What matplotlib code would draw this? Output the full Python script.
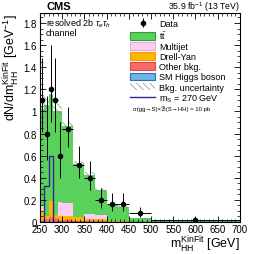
import matplotlib
matplotlib.use("Agg")
import matplotlib.pyplot as plt
import numpy as np
from matplotlib.patches import Patch
from matplotlib.lines import Line2D
from matplotlib.ticker import MultipleLocator

plt.rcParams['font.family'] = ['Liberation Sans', 'DejaVu Sans']
plt.rcParams['mathtext.fontset'] = 'custom'
plt.rcParams['mathtext.rm'] = 'Liberation Sans'
plt.rcParams['mathtext.it'] = 'Liberation Sans:italic'
plt.rcParams['mathtext.bf'] = 'Liberation Sans:bold'
plt.rcParams['hatch.linewidth'] = 0.5

# bins in m_HH^KinFit [GeV]
edges = [250, 260, 270, 280, 290, 300, 325, 350, 375, 400, 425, 450, 500, 700]

# stacked backgrounds, dN/dm [GeV^-1] (bottom -> top)
higgs    = [0.003, 0.003, 0.003, 0.003, 0.003, 0.002, 0.002, 0.002, 0.001, 0.001, 0.001, 0.0005, 0.0001]
other    = [0.012, 0.020, 0.040, 0.035, 0.015, 0.012, 0.010, 0.006, 0.005, 0.003, 0.003, 0.001, 0.0002]
dy       = [0.085, 0.035, 0.150, 0.025, 0.040, 0.040, 0.035, 0.020, 0.018, 0.008, 0.006, 0.002, 0.0005]
multijet = [0.045, 0.0, 0.0, 0.0, 0.120, 0.120, 0.0, 0.040, 0.040, 0.0, 0.0, 0.0, 0.0]
ttbar    = [0.875, 1.000, 0.965, 0.945, 0.830, 0.690, 0.475, 0.360, 0.225, 0.140, 0.130, 0.030, 0.005]
bkg_unc  = [0.16, 0.08, 0.07, 0.07, 0.06, 0.045, 0.03, 0.025, 0.02, 0.015, 0.015, 0.006, 0.008]

# signal m_S = 270 GeV
signal = [0.0, 0.33, 0.60, 0, 0, 0, 0, 0, 0, 0, 0, 0, 0]

# observed events per bin
data_n = [11, 8, 12, 11, 6, 21, 13, 10, 5, 4, 4, 4, 4]

edges = np.array(edges, dtype=float)
widths = np.diff(edges)
centres = edges[:-1] + widths / 2

fig = plt.figure(figsize=(2.66, 2.55), dpi=100)
ax = fig.add_axes([0.150, 0.1255, 0.752, 0.8195])

comps = [
    (higgs, '#6cb4e4', '#2f6fb5', 'SM Higgs boson'),
    (other, '#fa6a6a', '#e04848', 'Other bkg.'),
    (dy, '#ffb400', '#f0a000', 'Drell-Yan'),
    (multijet, '#ffccf5', '#e8a8e0', 'Multijet'),
    (ttbar, '#5ad15a', '#2e9e2e', r'$\mathrm{t\bar{t}}$'),
]
base = np.zeros(len(widths))
for vals, fc, ec, lab in comps:
    top = base + np.array(vals)
    ax.stairs(top, edges, baseline=base, fill=True, color=fc, linewidth=0)
    base = top
total = base

# bkg uncertainty
unc = np.array(bkg_unc)
ax.bar(edges[:-1], 2 * unc, bottom=total - unc, width=widths, align='edge',
       fill=False, hatch='\\\\\\\\\\', edgecolor='#888888', linewidth=0)

# signal
ax.stairs(signal, edges, color='#2b2b8f', linewidth=1.0)

# data
n = np.array(data_n, dtype=float)
up = 0.5 + np.sqrt(n + 0.25)
dn = np.sqrt(n + 0.25) - 0.5
ax.errorbar(centres, n / widths, yerr=[dn / widths, up / widths], xerr=widths / 2,
            fmt='o', color='k', ms=3, elinewidth=0.7, capsize=0, zorder=5)

ax.set_xlim(250, 700)
ax.set_ylim(0, 1.89)
ax.xaxis.set_major_locator(MultipleLocator(50))
ax.xaxis.set_minor_locator(MultipleLocator(10))
ax.yaxis.set_minor_locator(MultipleLocator(0.05))
ax.set_yticks(np.arange(0, 1.81, 0.2))
ax.set_yticklabels(['0', '0.2', '0.4', '0.6', '0.8', '1', '1.2', '1.4', '1.6', '1.8'])
ax.tick_params(which='both', direction='in', top=True, right=True, labelsize=7)
ax.tick_params(axis='y', pad=2)
ax.tick_params(axis='x', pad=1.5)
ax.tick_params(which='major', length=4, width=0.6)
ax.tick_params(which='minor', length=2, width=0.5)
for s in ax.spines.values():
    s.set_linewidth(0.8)

ax.set_ylabel(r'dN/dm$_{\mathrm{HH}}^{\mathrm{KinFit}}$ [GeV$^{-1}$]', fontsize=9, loc='top', labelpad=1)
ax.set_xlabel(r'm$_{\mathrm{HH}}^{\mathrm{KinFit}}$ [GeV]', fontsize=9, loc='right', labelpad=0)

fig.text(0.175, 0.96, 'CMS', fontsize=8, fontweight='bold', va='baseline')
fig.text(0.902, 0.96, r'35.9 fb$^{-1}$ (13 TeV)', fontsize=6.3, ha='right', va='baseline')
ax.text(0.03, 0.955, r'resolved 2b $\tau_{e}\tau_{h}$', transform=ax.transAxes, fontsize=6.5, va='center')
ax.text(0.03, 0.905, 'channel', transform=ax.transAxes, fontsize=6.5, va='center')

h_data = ax.errorbar([], [], yerr=[], fmt='o', color='k', ms=3, elinewidth=0.7)
handles = [h_data,
           Patch(facecolor='#5ad15a', edgecolor='#2e9e2e', lw=0.8),
           Patch(facecolor='#ffccf5', edgecolor='#e8a8e0', lw=0.8),
           Patch(facecolor='#ffb400', edgecolor='#f0a000', lw=0.8),
           Patch(facecolor='#fa6a6a', edgecolor='#e04848', lw=0.8),
           Patch(facecolor='#6cb4e4', edgecolor='#2f6fb5', lw=0.8),
           Patch(facecolor='none', edgecolor='#888888', hatch='\\\\\\\\\\', lw=0),
           Line2D([], [], color='#2b2b8f', lw=1.0)]
labels = ['Data', r'$\mathrm{t\bar{t}}$', 'Multijet', 'Drell-Yan', 'Other bkg.',
          'SM Higgs boson', 'Bkg. uncertainty', r'm$_{\mathrm{S}}$ = 270 GeV']
ax.legend(handles, labels, loc='upper left', bbox_to_anchor=(0.45, 0.97), frameon=False,
          fontsize=6.5, handlelength=2.8, handleheight=0.9, labelspacing=0.12,
          handletextpad=0.45, borderpad=0, borderaxespad=0)
ax.text(0.465, 0.545, 'σ(gg→S)×ℬ(S→HH) = 10 pb', transform=ax.transAxes,
        fontsize=4.3, va='center')

fig.savefig('out.png', dpi=100)
